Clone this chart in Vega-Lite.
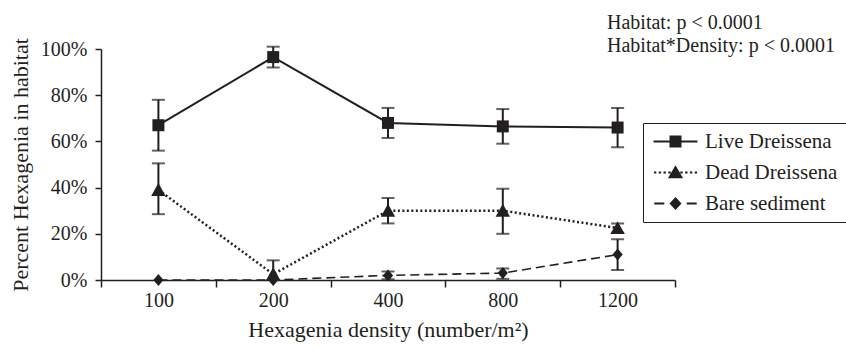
{
  "$schema": "https://vega.github.io/schema/vega-lite/v6.json",
  "width": 574,
  "height": 231,
  "autosize": {"type": "none"},
  "padding": {"left": 101, "top": 49, "right": 171, "bottom": 67},
  "background": "white",
  "config": {
    "view": {"stroke": null},
    "font": "Liberation Serif",
    "axis": {"grid": false, "domainColor": "#231f20", "domainWidth": 1.5, "tickColor": "#231f20", "tickWidth": 1.5, "labelColor": "#231f20", "labelFontSize": 20, "titleColor": "#231f20", "titleFontSize": 22, "titleFontWeight": "normal", "labelFont": "Liberation Serif", "titleFont": "Liberation Serif"}
  },
  "title": {
    "text": ["Habitat: p < 0.0001", "Habitat*Density: p < 0.0001"],
    "anchor": "end",
    "frame": "group",
    "align": "left",
    "dx": -68,
    "baseline": "alphabetic",
    "offset": -34,
    "lineHeight": 23,
    "font": "Liberation Serif",
    "fontSize": 20,
    "fontWeight": "normal",
    "color": "#231f20"
  },
  "data": {
    "values": [
      {"density": "100", "habitat": "Live Dreissena", "mean": 0.67, "lo": 0.56, "hi": 0.78},
      {"density": "200", "habitat": "Live Dreissena", "mean": 0.965, "lo": 0.92, "hi": 1.01},
      {"density": "400", "habitat": "Live Dreissena", "mean": 0.68, "lo": 0.615, "hi": 0.745},
      {"density": "800", "habitat": "Live Dreissena", "mean": 0.665, "lo": 0.59, "hi": 0.74},
      {"density": "1200", "habitat": "Live Dreissena", "mean": 0.66, "lo": 0.575, "hi": 0.745},
      {"density": "100", "habitat": "Dead Dreissena", "mean": 0.39, "lo": 0.285, "hi": 0.505},
      {"density": "200", "habitat": "Dead Dreissena", "mean": 0.025, "lo": 0.0, "hi": 0.085},
      {"density": "400", "habitat": "Dead Dreissena", "mean": 0.3, "lo": 0.245, "hi": 0.355},
      {"density": "800", "habitat": "Dead Dreissena", "mean": 0.3, "lo": 0.2, "hi": 0.395},
      {"density": "1200", "habitat": "Dead Dreissena", "mean": 0.225, "lo": 0.205, "hi": 0.245},
      {"density": "100", "habitat": "Bare sediment", "mean": 0.0, "lo": null, "hi": null},
      {"density": "200", "habitat": "Bare sediment", "mean": 0.0, "lo": null, "hi": null},
      {"density": "400", "habitat": "Bare sediment", "mean": 0.02, "lo": 0.003, "hi": 0.037},
      {"density": "800", "habitat": "Bare sediment", "mean": 0.03, "lo": 0.005, "hi": 0.05},
      {"density": "1200", "habitat": "Bare sediment", "mean": 0.11, "lo": 0.043, "hi": 0.176}
    ]
  },
  "encoding": {
    "x": {
      "field": "density",
      "type": "ordinal",
      "scale": {"domain": ["100", "200", "400", "800", "1200"], "paddingInner": 0, "paddingOuter": 0},
      "axis": {"labelAngle": 0, "tickBand": "extent", "tickSize": 7, "labelPadding": 3, "title": "Hexagenia density (number/m²)", "titlePadding": 9}
    }
  },
  "layer": [
    {
      "transform": [{"filter": "datum.habitat == 'Live Dreissena'"}],
      "mark": {"type": "line", "color": "#231f20", "strokeWidth": 2},
      "encoding": {
        "y": {
          "field": "mean",
          "type": "quantitative",
          "scale": {"domain": [0, 1], "nice": false, "zero": true},
          "axis": {"values": [0, 0.2, 0.4, 0.6, 0.8, 1], "format": ".0%", "tickSize": 6, "labelPadding": 8, "title": "Percent Hexagenia in habitat", "titlePadding": 8}
        }
      }
    },
    {
      "transform": [{"filter": "datum.habitat == 'Dead Dreissena'"}],
      "mark": {"type": "line", "color": "#231f20", "strokeWidth": 2.5, "strokeDash": [2, 2.5]},
      "encoding": {"y": {"field": "mean", "type": "quantitative"}}
    },
    {
      "transform": [{"filter": "datum.habitat == 'Bare sediment'"}],
      "mark": {"type": "line", "color": "#231f20", "strokeWidth": 1.6, "strokeDash": [9, 5]},
      "encoding": {"y": {"field": "mean", "type": "quantitative"}}
    },
    {
      "mark": {"type": "rule", "color": "#231f20", "strokeWidth": 2},
      "encoding": {
        "y": {"field": "lo", "type": "quantitative"},
        "y2": {"field": "hi"}
      }
    },
    {
      "mark": {"type": "tick", "color": "#231f20", "thickness": 2, "size": 13},
      "encoding": {"y": {"field": "hi", "type": "quantitative"}}
    },
    {
      "mark": {"type": "tick", "color": "#231f20", "thickness": 2, "size": 13},
      "encoding": {"y": {"field": "lo", "type": "quantitative"}}
    },
    {
      "transform": [{"filter": "datum.habitat == 'Live Dreissena'"}],
      "mark": {"type": "point", "shape": "M-1,-1L1,-1L1,1L-1,1Z", "filled": true, "color": "#231f20", "opacity": 1, "size": 144, "strokeWidth": 0},
      "encoding": {"y": {"field": "mean", "type": "quantitative"}}
    },
    {
      "transform": [{"filter": "datum.habitat == 'Dead Dreissena'"}],
      "mark": {"type": "point", "shape": "M0,-1.15L1.2,1L-1.2,1Z", "filled": true, "color": "#231f20", "opacity": 1, "size": 144, "strokeWidth": 0},
      "encoding": {"y": {"field": "mean", "type": "quantitative"}}
    },
    {
      "transform": [{"filter": "datum.habitat == 'Bare sediment'"}],
      "mark": {"type": "point", "shape": "M0,-1L0.85,0L0,1L-0.85,0Z", "filled": true, "color": "#231f20", "opacity": 1, "size": 144, "strokeWidth": 0},
      "encoding": {"y": {"field": "mean", "type": "quantitative"}}
    },
    {
      "transform": [{"filter": "false"}],
      "mark": {"type": "point", "filled": true, "color": "#231f20", "strokeWidth": 0, "opacity": 1},
      "encoding": {
        "y": {"field": "mean", "type": "quantitative"},
        "shape": {
          "field": "habitat", "type": "nominal",
          "scale": {"domain": ["Live Dreissena", "Dead Dreissena", "Bare sediment"], "range": [
            "M-2.75,-0.12L2.75,-0.12L2.75,0.12L-2.75,0.12ZM-0.75,-0.75L0.75,-0.75L0.75,0.75L-0.75,0.75Z",
            "M-2.7,-0.14L-2.4,-0.14L-2.4,0.14L-2.7,0.14ZM-2.1,-0.14L-1.8,-0.14L-1.8,0.14L-2.1,0.14ZM-1.5,-0.14L-1.2,-0.14L-1.2,0.14L-1.5,0.14ZM-0.9,-0.14L-0.6,-0.14L-0.6,0.14L-0.9,0.14ZM0.6,-0.14L0.9,-0.14L0.9,0.14L0.6,0.14ZM1.2,-0.14L1.5,-0.14L1.5,0.14L1.2,0.14ZM1.8,-0.14L2.1,-0.14L2.1,0.14L1.8,0.14ZM2.4,-0.14L2.7,-0.14L2.7,0.14L2.4,0.14ZM0,-0.9L0.95,0.72L-0.95,0.72Z",
            "M-2.65,-0.11L-1.4,-0.11L-1.4,0.11L-2.65,0.11ZM1.4,-0.11L2.65,-0.11L2.65,0.11L1.4,0.11ZM0,-0.8L0.75,0L0,0.8L-0.75,0Z"
          ]},
          "legend": {
            "title": null, "orient": "none", "legendX": 542, "legendY": 74,
            "padding": 8, "rowPadding": 9, "symbolSize": 256, "symbolOffset": 14, "labelOffset": 19,
            "labelFontSize": 21, "labelFont": "Liberation Serif", "labelColor": "#231f20",
            "strokeColor": "#231f20", "fillColor": "white",
            "symbolStrokeWidth": 0, "symbolFillColor": "#231f20",
            "encode": {"legend": {"update": {"strokeWidth": {"value": 1.5}}}}
          }
        }
      }
    }
  ]
}
